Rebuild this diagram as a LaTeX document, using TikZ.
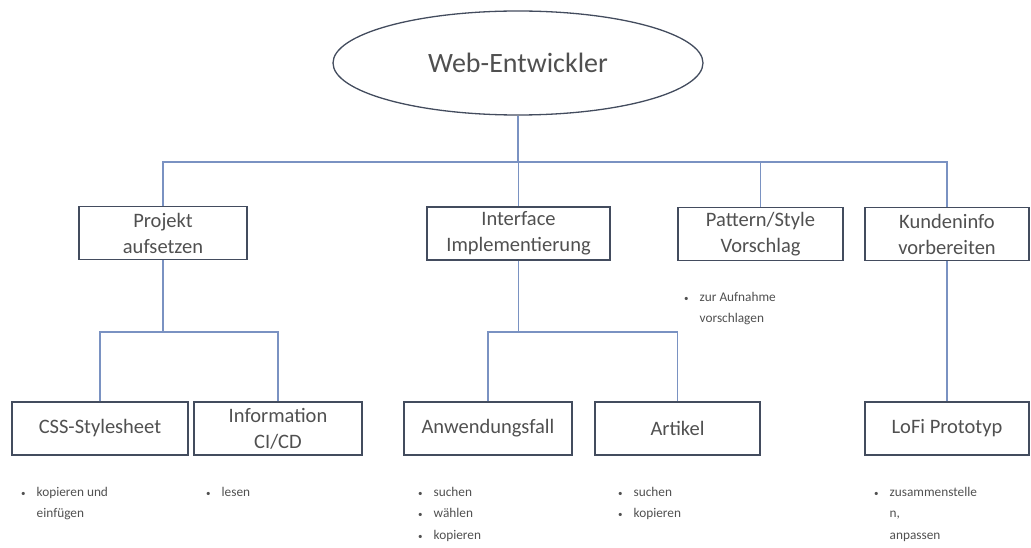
\documentclass[tikz,border=0pt]{standalone}
\usepackage{fontspec}
\setmainfont{Carlito}
\usetikzlibrary{shapes.geometric}
\definecolor{framec}{HTML}{434C5E}
\definecolor{linkc}{HTML}{7A92C2}
\definecolor{txtc}{HTML}{505050}
\tikzset{
  root/.style={ellipse, draw=framec, line width=1.3pt, minimum width=370pt,
    minimum height=104pt, inner sep=0pt, text=txtc,
    font=\fontsize{28}{32}\selectfont},
  task/.style={draw=framec, line width=1.5pt, minimum height=53pt, inner sep=0pt,
    align=center, text=txtc, font=\fontsize{20.5}{26}\selectfont},
  link/.style={draw=linkc, line width=1.6pt},
  notes/.style={anchor=north west, inner sep=0pt, text=txtc,
    font=\fontsize{13.3}{21.5}\selectfont},
}
\newcommand{\itemlist}[1]{\begin{tabular}{@{}l@{\hspace{11pt}}l@{}}#1\end{tabular}}
\newcommand{\bul}{{\fontsize{9}{9}\selectfont\textbullet}}
\begin{document}
\begin{tikzpicture}[x=1pt, y=-1pt]
\useasboundingbox (0,0) rectangle (1031,548);

% root
\node[root] (web) at (518,63) {Web-Entwickler};

% first level
\node[task, minimum width=168pt] (proj) at (163,233) {Projekt\\aufsetzen};
\node[task, minimum width=183pt] (intf) at (518.5,233.5) {Interface\\Implementierung};
\node[task, minimum width=165pt] (patt) at (760.5,234) {Pattern/Style\\Vorschlag};
\node[task, minimum width=164pt] (kund) at (947,234) {Kundeninfo\\vorbereiten};

% second level
\node[task, minimum width=176pt] (css) at (100,428.5) {CSS-Stylesheet};
\node[task, minimum width=168pt] (info) at (278,428.5) {Information\\CI/CD};
\node[task, minimum width=168pt] (anw) at (488,428.5) {Anwendungsfall};
\node[task, minimum width=165pt] (art) at (677.5,428.5) {Artikel};
\node[task, minimum width=164pt] (lofi) at (947,428.5) {LoFi Prototyp};

% bar heights
\coordinate (bar0) at (0,162);
\coordinate (bar1) at (0,332);

% connectors
\draw[link] (web.south) -- (web.south |- bar0);
\draw[link] (proj.north) -- (proj.north |- bar0) -- (kund.north |- bar0) -- (kund.north);
\draw[link] (intf.north |- bar0) -- (intf.north);
\draw[link] (patt.north |- bar0) -- (patt.north);

\draw[link] (proj.south) -- (proj.south |- bar1);
\draw[link] (css.north) -- (css.north |- bar1) -- (info.north |- bar1) -- (info.north);
\draw[link] (intf.south) -- (intf.south |- bar1);
\draw[link] (anw.north) -- (anw.north |- bar1) -- (art.north |- bar1) -- (art.north);
\draw[link] (kund.south) -- (lofi.north);

% notes
\node[notes] (n-patt) at (684,286) {\itemlist{\bul & zur Aufnahme\\ & vorschlagen}};
\node[notes] (n-css) at (21,481) {\itemlist{\bul & kopieren und\\ & einfügen}};
\node[notes] (n-info) at (206,481) {\itemlist{\bul & lesen}};
\node[notes] (n-anw) at (418,481) {\itemlist{\bul & suchen\\ \bul & wählen\\ \bul & kopieren}};
\node[notes] (n-art) at (618,481) {\itemlist{\bul & suchen\\ \bul & kopieren}};
\node[notes] (n-lofi) at (874,481) {\itemlist{\bul & zusammenstelle\\ & n,\\ & anpassen}};
\end{tikzpicture}
\end{document}
